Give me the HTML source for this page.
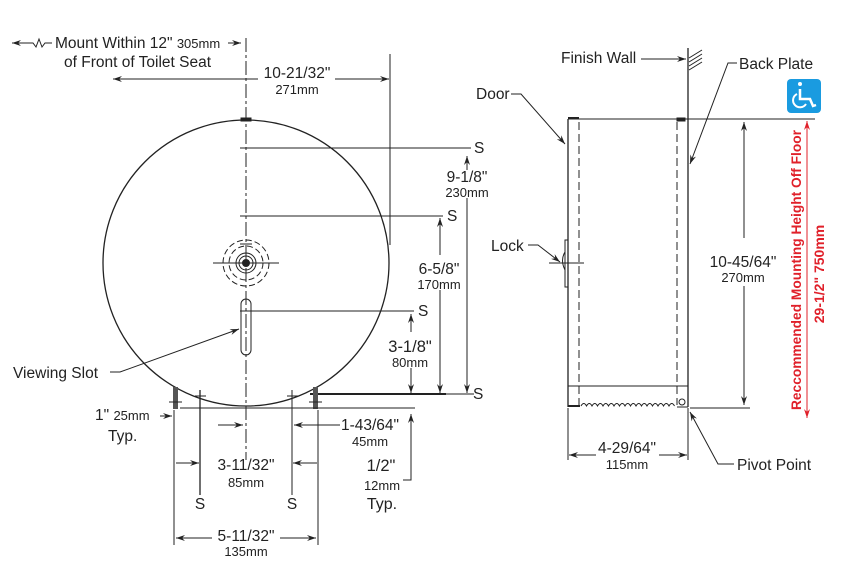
<!DOCTYPE html>
<html><head><meta charset="utf-8"><style>
html,body{margin:0;padding:0;background:#fff;}
svg{display:block;font-family:"Liberation Sans",Arial,sans-serif;}
text{fill:#222;}
</style></head><body>
<svg width="845" height="572" viewBox="0 0 845 572" xmlns="http://www.w3.org/2000/svg">
<defs>
<marker id="a" markerWidth="10" markerHeight="8" refX="9" refY="4" orient="auto" markerUnits="userSpaceOnUse">
<path d="M0,1 L9,4 L0,7 L3,4 Z" fill="#222"/></marker>
<marker id="r" markerWidth="10" markerHeight="8" refX="9" refY="4" orient="auto" markerUnits="userSpaceOnUse">
<path d="M0,1 L9,4 L0,7 L3,4 Z" fill="#e0202a"/></marker>
</defs>
<g stroke="#222" stroke-width="1" fill="none">
<line x1="30" y1="43" x2="12" y2="43" marker-end="url(#a)"/>
<polyline points="30,43 33,43 36,47 39,39 42,47 45,43 52,43"/>
<line x1="228" y1="43" x2="241" y2="43" marker-end="url(#a)"/>
<line x1="246" y1="38" x2="246" y2="460" stroke-dasharray="14,3,3,3"/>
<line x1="258" y1="79" x2="113" y2="79" marker-end="url(#a)"/>
<line x1="335" y1="79" x2="389" y2="79" marker-end="url(#a)"/>
<line x1="390" y1="54" x2="390" y2="245"/>
<circle cx="246" cy="263" r="143" stroke-width="1.3"/>
<rect x="241" y="118" width="10" height="3" fill="#222"/>
<line x1="240" y1="148" x2="471" y2="148"/>
<line x1="240" y1="216" x2="443" y2="216"/>
<line x1="240" y1="311" x2="414" y2="311"/>
<line x1="310" y1="394" x2="446" y2="394" stroke-width="2"/>
<line x1="446" y1="394" x2="474" y2="394"/>
<line x1="240" y1="244" x2="252" y2="244"/>
<line x1="467" y1="170" x2="467" y2="156" marker-end="url(#a)"/>
<line x1="467" y1="198" x2="467" y2="393" marker-end="url(#a)"/>
<line x1="440" y1="255" x2="440" y2="218" marker-end="url(#a)"/>
<line x1="440" y1="290" x2="440" y2="393" marker-end="url(#a)"/>
<line x1="411" y1="332" x2="411" y2="314" marker-end="url(#a)"/>
<line x1="411" y1="368" x2="411" y2="393" marker-end="url(#a)"/>
<circle cx="246" cy="263" r="3.5" fill="#222"/>
<circle cx="246" cy="263" r="7"/>
<circle cx="246" cy="263" r="10"/>
<circle cx="246" cy="263" r="17" stroke-dasharray="6,3"/>
<circle cx="246" cy="263" r="23" stroke-dasharray="6,3"/>
<line x1="213" y1="263" x2="279" y2="263"/>
<rect x="241" y="299" width="10" height="56" rx="5"/>
<polyline points="110,372 120,372 239,329" marker-end="url(#a)"/>
<rect x="173" y="387" width="5" height="22" fill="#555" stroke="none"/>
<rect x="313" y="387" width="5" height="22" fill="#555" stroke="none"/>
<line x1="169" y1="402" x2="182" y2="402"/><line x1="309" y1="402" x2="322" y2="402"/>
<line x1="195" y1="396" x2="206" y2="396"/><line x1="287" y1="396" x2="298" y2="396"/>
<line x1="200" y1="390" x2="200" y2="495" stroke-width="1.3"/>
<line x1="292" y1="390" x2="292" y2="495"/>
<line x1="180" y1="408" x2="415" y2="408"/>
<line x1="174" y1="410" x2="174" y2="545"/>
<line x1="318" y1="410" x2="318" y2="545"/>
<line x1="160" y1="416" x2="172" y2="416" marker-end="url(#a)"/>
<line x1="218" y1="425" x2="243" y2="425" marker-end="url(#a)"/>
<line x1="340" y1="425" x2="294" y2="425" marker-end="url(#a)"/>
<line x1="176" y1="463" x2="199" y2="463" marker-end="url(#a)"/>
<line x1="317" y1="463" x2="293" y2="463" marker-end="url(#a)"/>
<line x1="212" y1="538" x2="176" y2="538" marker-end="url(#a)"/>
<line x1="280" y1="538" x2="316" y2="538" marker-end="url(#a)"/>
<polyline points="403,480 411,480 411,414" marker-end="url(#a)"/>

<line x1="568" y1="119" x2="815" y2="119"/>
<line x1="568" y1="119" x2="568" y2="407" stroke-width="1.3"/>
<line x1="579" y1="122" x2="579" y2="405" stroke-dasharray="8,4"/>
<line x1="677" y1="122" x2="677" y2="405" stroke-dasharray="8,4"/>
<line x1="688" y1="48" x2="688" y2="407" stroke-width="1.3"/>
<line x1="568" y1="386" x2="688" y2="386"/>
<line x1="568" y1="406" x2="580" y2="406" stroke-width="2"/>
<path d="M581,406 q2.8,-5 5.5,0 q2.8,-5 5.5,0 q2.8,-5 5.5,0 q2.8,-5 5.5,0 q2.8,-5 5.5,0 q2.8,-5 5.5,0 q2.8,-5 5.5,0 q2.8,-5 5.5,0 q2.8,-5 5.5,0 q2.8,-5 5.5,0 q2.8,-5 5.5,0 q2.8,-5 5.5,0 q2.8,-5 5.5,0 q2.8,-5 5.5,0 q2.8,-5 5.5,0 q2.8,-5 5.5,0 q2.8,-5 5.5,0"/>
<line x1="677" y1="407" x2="688" y2="407"/>
<circle cx="682" cy="402" r="3"/>
<rect x="677" y="118" width="8" height="3" fill="#222"/>
<line x1="568" y1="118" x2="579" y2="118" stroke-width="2"/>
<line x1="689" y1="58" x2="702" y2="50"/><line x1="689" y1="62" x2="702" y2="54"/>
<line x1="689" y1="66" x2="702" y2="58"/><line x1="689" y1="70" x2="702" y2="62"/>
<line x1="641" y1="59" x2="686" y2="59" marker-end="url(#a)"/>
<polyline points="737,63 728,63 690,164" marker-end="url(#a)"/>
<polyline points="511,94 521,94 565,144" marker-end="url(#a)"/>
<polyline points="528,245 538,245 560,262" marker-end="url(#a)"/>
<rect x="565" y="240" width="3" height="47"/>
<path d="M565,252 q-5,8 0,18"/>
<line x1="549" y1="263" x2="584" y2="263"/>
<line x1="750" y1="408" x2="690" y2="408"/>
<line x1="744" y1="238" x2="744" y2="122" marker-end="url(#a)"/>
<line x1="744" y1="286" x2="744" y2="405" marker-end="url(#a)"/>
<line x1="568" y1="408" x2="568" y2="460"/>
<line x1="688" y1="408" x2="688" y2="460"/>
<line x1="596" y1="455" x2="569" y2="455" marker-end="url(#a)"/>
<line x1="659" y1="455" x2="687" y2="455" marker-end="url(#a)"/>
<polyline points="734,464 718,464 690,412" marker-end="url(#a)"/>
</g>
<g stroke="#e0202a" stroke-width="1">
<line x1="807" y1="270" x2="807" y2="121" marker-end="url(#r)"/>
<line x1="807" y1="270" x2="807" y2="418" marker-end="url(#r)"/>
</g>
<rect x="787" y="79" width="34" height="34" rx="4" fill="#1a9be0"/>
<g stroke="#fff" stroke-width="2.5" fill="none">
<circle cx="800" cy="84" r="2" fill="#fff" stroke="none"/>
<path d="M800,89 L800,99 L810,99 L813,106 L816,105" />
<path d="M797,94 a7,7 0 1 0 9,10" stroke-width="2"/>
</g>
<g font-size="15.5">
<text x="55" y="48">Mount Within 12" <tspan font-size="13">305mm</tspan></text>
<text x="64" y="67">of Front of Toilet Seat</text>
<text x="297" y="78" text-anchor="middle">10-21/32"</text>
<text x="297" y="94" text-anchor="middle" font-size="13">271mm</text>
<text x="474" y="153">S</text><text x="447" y="221">S</text><text x="418" y="316">S</text><text x="473" y="399">S</text>
<text x="467" y="182" text-anchor="middle">9-1/8"</text>
<text x="467" y="197" text-anchor="middle" font-size="13">230mm</text>
<text x="439" y="274" text-anchor="middle">6-5/8"</text>
<text x="439" y="289" text-anchor="middle" font-size="13">170mm</text>
<text x="410" y="352" text-anchor="middle" font-size="16.5">3-1/8"</text>
<text x="410" y="367" text-anchor="middle" font-size="13">80mm</text>
<text x="13" y="378">Viewing Slot</text>
<text x="95" y="420">1" <tspan font-size="13">25mm</tspan></text>
<text x="108" y="441">Typ.</text>
<text x="370" y="430" text-anchor="middle">1-43/64"</text>
<text x="370" y="446" text-anchor="middle" font-size="13">45mm</text>
<text x="246" y="470" text-anchor="middle">3-11/32"</text>
<text x="246" y="487" text-anchor="middle" font-size="13">85mm</text>
<text x="381" y="471" text-anchor="middle" font-size="16.5">1/2"</text>
<text x="382" y="490" text-anchor="middle" font-size="13">12mm</text>
<text x="382" y="509" text-anchor="middle" font-size="16">Typ.</text>
<text x="200" y="509" text-anchor="middle">S</text><text x="292" y="509" text-anchor="middle">S</text>
<text x="246" y="541" text-anchor="middle">5-11/32"</text>
<text x="246" y="556" text-anchor="middle" font-size="13">135mm</text>
<text x="561" y="63">Finish Wall</text>
<text x="739" y="69">Back Plate</text>
<text x="476" y="99">Door</text>
<text x="491" y="251">Lock</text>
<text x="743" y="267" text-anchor="middle">10-45/64"</text>
<text x="743" y="282" text-anchor="middle" font-size="13">270mm</text>
<text x="627" y="453" text-anchor="middle">4-29/64"</text>
<text x="627" y="469" text-anchor="middle" font-size="13">115mm</text>
<text x="737" y="470">Pivot Point</text>
</g>
<g font-size="14" font-weight="bold">
<text transform="translate(801,270) rotate(-90)" text-anchor="middle" style="fill:#e0202a" textLength="280" lengthAdjust="spacingAndGlyphs">Reccommended Mounting Height Off Floor</text>
<text transform="translate(824,274) rotate(-90)" text-anchor="middle" style="fill:#e0202a">29-1/2" 750mm</text>
</g>
</svg>
</body></html>
